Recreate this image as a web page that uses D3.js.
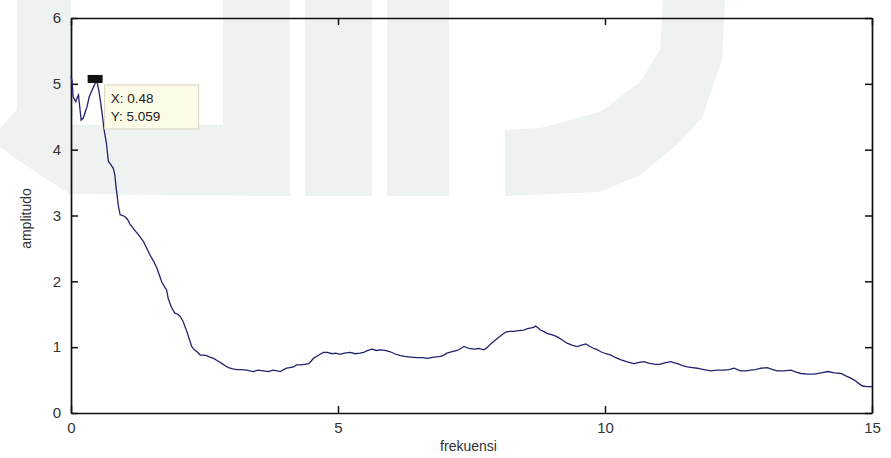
<!DOCTYPE html>
<html>
<head>
<meta charset="utf-8">
<script src="https://cdn.jsdelivr.net/npm/d3@7"></script>
<style>
    body { margin: 0; background: #fff; }
    text { font-family: "Liberation Sans", Arial, sans-serif; }
</style>
</head>
<body>
<div id="chart"></div>
<script>
// spectrum
const freq = [0.00, 0.02, 0.04, 0.07, 0.09, 0.12, 0.14, 0.17, 0.19, 0.23, 0.27, 0.30, 0.34, 0.38, 0.42, 0.48,
    0.52, 0.55, 0.59, 0.62, 0.64, 0.66, 0.68, 0.70, 0.74, 0.79, 0.82, 0.85, 0.89, 0.92, 0.97, 1.01, 1.06, 1.11,
    1.17, 1.23, 1.29, 1.36, 1.42, 1.48, 1.55, 1.61, 1.66, 1.70, 1.75, 1.79, 1.82, 1.88, 1.94, 2.00, 2.04, 2.10,
    2.14, 2.17, 2.20, 2.26, 2.31, 2.36, 2.42, 2.48, 2.54, 2.60, 2.67, 2.75, 2.83, 2.90, 2.95, 3.03, 3.11, 3.20,
    3.29, 3.35, 3.42, 3.50, 3.61, 3.70, 3.78, 3.86, 3.92, 3.98, 4.04, 4.10, 4.17, 4.22, 4.29, 4.37, 4.45, 4.50,
    4.54, 4.62, 4.68, 4.73, 4.80, 4.89, 4.96, 5.04, 5.12, 5.23, 5.32, 5.41, 5.48, 5.56, 5.64, 5.72, 5.79, 5.88,
    5.98, 6.06, 6.17, 6.25, 6.36, 6.48, 6.58, 6.67, 6.80, 6.92, 6.98, 7.04, 7.12, 7.23, 7.30, 7.36, 7.45, 7.55,
    7.64, 7.73, 7.80, 7.86, 7.92, 7.98, 8.06, 8.14, 8.22, 8.29, 8.38, 8.48, 8.55, 8.60, 8.66, 8.70, 8.75, 8.79,
    8.85, 8.91, 9.00, 9.10, 9.20, 9.29, 9.38, 9.48, 9.56, 9.64, 9.72, 9.79, 9.86, 9.92, 10.02, 10.11, 10.20,
    10.29, 10.40, 10.54, 10.64, 10.73, 10.80, 10.86, 10.95, 11.02, 11.12, 11.23, 11.30, 11.36, 11.45, 11.54,
    11.64, 11.73, 11.85, 11.98, 12.10, 12.23, 12.32, 12.42, 12.48, 12.54, 12.64, 12.73, 12.82, 12.92, 13.04,
    13.14, 13.23, 13.35, 13.48, 13.58, 13.67, 13.80, 13.92, 14.05, 14.17, 14.30, 14.42, 14.52, 14.60, 14.67,
    14.75, 14.82, 14.90, 15.00];
const amp = [5.11, 5.05, 4.80, 4.76, 4.73, 4.80, 4.83, 4.60, 4.45, 4.48, 4.58, 4.65, 4.80, 4.88, 4.95, 5.059,
    4.90, 4.75, 4.50, 4.30, 4.20, 4.12, 3.97, 3.82, 3.78, 3.72, 3.62, 3.39, 3.13, 3.01, 3.00, 2.98, 2.94, 2.86,
    2.80, 2.74, 2.68, 2.60, 2.50, 2.40, 2.30, 2.20, 2.08, 1.99, 1.92, 1.87, 1.74, 1.61, 1.52, 1.50, 1.47, 1.39,
    1.30, 1.24, 1.16, 1.01, 0.96, 0.93, 0.88, 0.88, 0.87, 0.85, 0.83, 0.79, 0.75, 0.71, 0.69, 0.67, 0.66, 0.66,
    0.65, 0.64, 0.63, 0.65, 0.64, 0.63, 0.65, 0.64, 0.63, 0.66, 0.68, 0.69, 0.70, 0.73, 0.73, 0.74, 0.75, 0.79,
    0.83, 0.87, 0.90, 0.92, 0.92, 0.90, 0.91, 0.89, 0.91, 0.92, 0.90, 0.91, 0.92, 0.95, 0.97, 0.95, 0.96, 0.95,
    0.93, 0.90, 0.87, 0.86, 0.85, 0.84, 0.84, 0.83, 0.85, 0.86, 0.88, 0.91, 0.93, 0.95, 0.98, 1.01, 0.98, 0.97,
    0.98, 0.96, 1.00, 1.05, 1.09, 1.13, 1.18, 1.23, 1.24, 1.24, 1.25, 1.26, 1.28, 1.29, 1.30, 1.32, 1.29, 1.26,
    1.24, 1.21, 1.19, 1.16, 1.11, 1.06, 1.03, 1.01, 1.03, 1.05, 1.01, 0.98, 0.96, 0.93, 0.90, 0.88, 0.84,
    0.81, 0.78, 0.75, 0.77, 0.78, 0.76, 0.75, 0.74, 0.74, 0.76, 0.78, 0.76, 0.75, 0.72, 0.70,
    0.69, 0.68, 0.66, 0.64, 0.65, 0.65, 0.66, 0.68, 0.66, 0.64, 0.64, 0.65, 0.66, 0.68, 0.69,
    0.66, 0.64, 0.64, 0.65, 0.62, 0.60, 0.59, 0.59, 0.61, 0.63, 0.61, 0.60, 0.56, 0.53, 0.50,
    0.45, 0.41, 0.40, 0.40];

const xTicks = [0, 5, 10, 15];
const yTicks = [0, 1, 2, 3, 4, 5, 6];
const cursorPoint = { x: 0.48, y: 5.059 };

function draw_chart() {
    const width = 891, height = 458;
    const margin = { left: 71, right: 19, top: 18, bottom: 45 };

    const svg = d3.select("#chart")
        .append("svg")
        .attr("width", width)
        .attr("height", height);

    svg.append("rect").attr("width", width).attr("height", height).attr("fill", "#fff");

    // faint logo watermark behind the figure
    const wm = svg.append("g").attr("fill", "#eef2f1");
    wm.append("path")
        .attr("d", "M17,0 L71,0 L71,125 L223,125 L223,0 L290,0 L290,196 L70,194 L40,175 L18,160 L0,147 L0,128 L17,110 Z");
    wm.append("rect").attr("x", 305).attr("y", 0).attr("width", 67).attr("height", 196);
    wm.append("rect").attr("x", 387).attr("y", 0).attr("width", 62).attr("height", 196);
    wm.append("path")
        .attr("d", "M505,130 L540,128 L600,112 L640,82 L660,50 L663,0 L725,0 L722,60 L702,118 L680,142 L640,175 L600,192 L505,196 Z");

    const x = d3.scaleLinear().domain([0, 15]).range([margin.left, width - margin.right]);
    const y = d3.scaleLinear().domain([0, 6]).range([height - margin.bottom, margin.top]);

    // box axes with inward ticks, matlab style
    const tick = 7;
    const fmt = d3.format("d");
    const axes = svg.append("g");
    axes.append("g")
        .attr("transform", `translate(0,${y(0)})`)
        .call(d3.axisBottom(x).tickValues(xTicks).tickFormat(fmt).tickSize(-tick).tickPadding(9).tickSizeOuter(0));
    axes.append("g")
        .attr("transform", `translate(0,${y(6)})`)
        .call(d3.axisTop(x).tickValues(xTicks).tickSize(-tick).tickFormat("").tickSizeOuter(0));
    axes.append("g")
        .attr("transform", `translate(${x(0)},0)`)
        .call(d3.axisLeft(y).tickValues(yTicks).tickFormat(fmt).tickSize(-tick).tickPadding(10).tickSizeOuter(0));
    axes.append("g")
        .attr("transform", `translate(${x(15)},0)`)
        .call(d3.axisRight(y).tickValues(yTicks).tickSize(-tick).tickFormat("").tickSizeOuter(0));

    axes.selectAll(".domain").attr("stroke", "#111").attr("stroke-width", 1.7);
    axes.selectAll(".tick line").attr("stroke", "#111").attr("stroke-width", 1.5);
    axes.selectAll(".tick text").attr("font-size", 15).attr("fill", "#333");

    // the spectrum
    const pts = freq.map((f, i) => [f, amp[i]]);
    svg.append("path")
        .datum(pts)
        .attr("fill", "none")
        .attr("stroke", "#22226e")
        .attr("stroke-width", 1.3)
        .attr("d", d3.line().x(d => x(d[0])).y(d => y(d[1])));

    // axis titles
    svg.append("text")
        .attr("x", (x(0) + x(15)) / 2 - 3)
        .attr("y", 451)
        .attr("text-anchor", "middle")
        .attr("font-size", 14)
        .attr("fill", "#333")
        .text("frekuensi");
    svg.append("text")
        .attr("transform", `translate(31,${(y(0) + y(6)) / 2 + 3}) rotate(-90)`)
        .attr("text-anchor", "middle")
        .attr("font-size", 14)
        .attr("fill", "#333")
        .text("amplitudo");

    // data cursor
    const cx = x(cursorPoint.x), cy = y(cursorPoint.y);
    svg.append("rect")
        .attr("x", cx - 9).attr("y", cy - 5)
        .attr("width", 15).attr("height", 8)
        .attr("fill", "#111");
    const tip = svg.append("g").attr("transform", `translate(${cx + 8},${cy + 5})`);
    tip.append("rect")
        .attr("width", 94).attr("height", 44)
        .attr("fill", "#fcfce8")
        .attr("stroke", "#d8d5c2");
    tip.append("text").attr("x", 6).attr("y", 18).attr("font-size", 13.5).attr("fill", "#222")
        .text(`X: ${cursorPoint.x}`);
    tip.append("text").attr("x", 6).attr("y", 36).attr("font-size", 13.5).attr("fill", "#222")
        .text(`Y: ${cursorPoint.y}`);
}

draw_chart();
</script>
</body>
</html>
